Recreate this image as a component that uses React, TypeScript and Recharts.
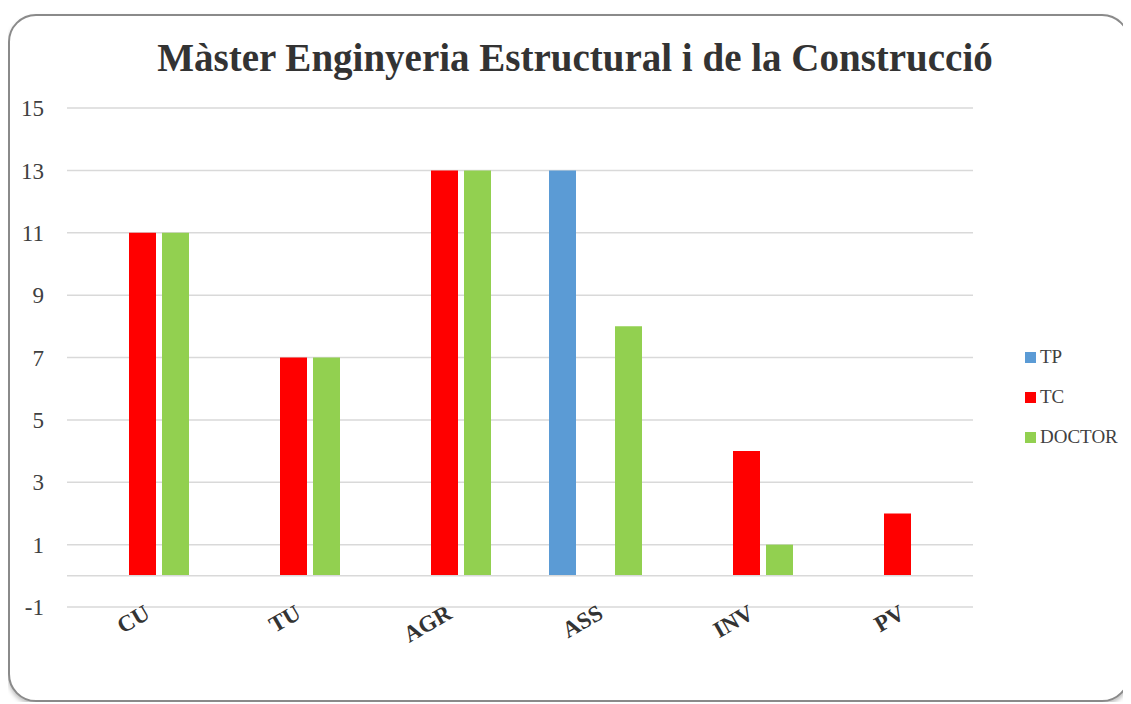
import { BarChart, Bar, XAxis, YAxis, CartesianGrid, Legend, ReferenceLine } from "recharts";

const categories = ["CU", "TU", "AGR", "ASS", "INV", "PV"];
const tp = [null, null, null, 13, null, null];
const tc = [11, 7, 13, null, 4, 2];
const doctor = [11, 7, 13, 8, 1, null];
const yTicks = [-1, 1, 3, 5, 7, 9, 11, 13, 15];

const series = [
    { key: "TP", name: "TP", color: "#5B9BD5" },
    { key: "TC", name: "TC", color: "#FF0000" },
    { key: "DOCTOR", name: "DOCTOR", color: "#92D050" },
];

const data = categories.map((c, i) => ({
    name: c,
    TP: tp[i],
    TC: tc[i],
    DOCTOR: doctor[i],
}));

const font = "'Liberation Serif', 'DejaVu Serif', serif";

const CustomLegend = () => (
    <div style={{ paddingLeft: 52, fontFamily: font, fontSize: 19, color: "#404040" }}>
        {series.map((s) => (
            <div key={s.key} style={{ display: "flex", alignItems: "center", height: 40 }}>
                <span style={{ width: 11, height: 11, background: s.color, marginRight: 4 }} />
                <span style={{ fontFamily: font }}>{s.name}</span>
            </div>
        ))}
    </div>
);

const XTick = (props: any) => {
    const { x, y, payload } = props;
    return (
        <text
            x={x + 3}
            y={y}
            dy={12}
            textAnchor="end"
            transform={`rotate(-30, ${x + 3}, ${y})`}
            fill="#333333"
            fontFamily={font}
            fontWeight="bold"
            fontSize={23}
        >
            {payload.value}
        </text>
    );
};

export default function App() {
    return (
        <div
            style={{
                position: "relative",
                width: 1118,
                height: 684,
                marginTop: 6,
                border: "2px solid #8a8a8a",
                borderRadius: 28,
                background: "#fff",
                boxShadow: "0 3px 4px rgba(0,0,0,0.25)",
            }}
        >
            <div
                style={{
                    position: "absolute",
                    top: 22,
                    left: 0,
                    width: "100%",
                    paddingLeft: 12,
                    boxSizing: "border-box",
                    textAlign: "center",
                    fontFamily: font,
                    fontWeight: "bold",
                    fontSize: 39,
                    lineHeight: 1,
                    color: "#333333",
                }}
            >
                Màster Enginyeria Estructural i de la Construcció
            </div>
            <BarChart
                width={1118}
                height={684}
                data={data}
                margin={{ top: 92, right: 10, bottom: 33, left: 0 }}
                barSize={27}
                barGap={6}
            >
                <CartesianGrid vertical={false} stroke="#d9d9d9" strokeWidth={1.5} />
                <XAxis
                    dataKey="name"
                    axisLine={false}
                    tickLine={false}
                    tickSize={0}
                    tickMargin={0}
                    height={60}
                    interval={0}
                    tick={<XTick />}
                />
                <YAxis
                    type="number"
                    domain={[-1, 15]}
                    ticks={yTicks}
                    width={57}
                    axisLine={false}
                    tickLine={false}
                    tickSize={0}
                    tickMargin={23}
                    tick={{ fill: "#404040", fontSize: 23, fontFamily: font }}
                />
                <ReferenceLine y={0} stroke="#d9d9d9" strokeWidth={1.5} />
                <Legend
                    layout="vertical"
                    align="right"
                    verticalAlign="top"
                    width={145}
                    wrapperStyle={{ top: 321, right: 10 }}
                    content={<CustomLegend />}
                />
                {series.map((s) => (
                    <Bar key={s.key} dataKey={s.key} name={s.name} fill={s.color} isAnimationActive={false} />
                ))}
            </BarChart>
        </div>
    );
}
